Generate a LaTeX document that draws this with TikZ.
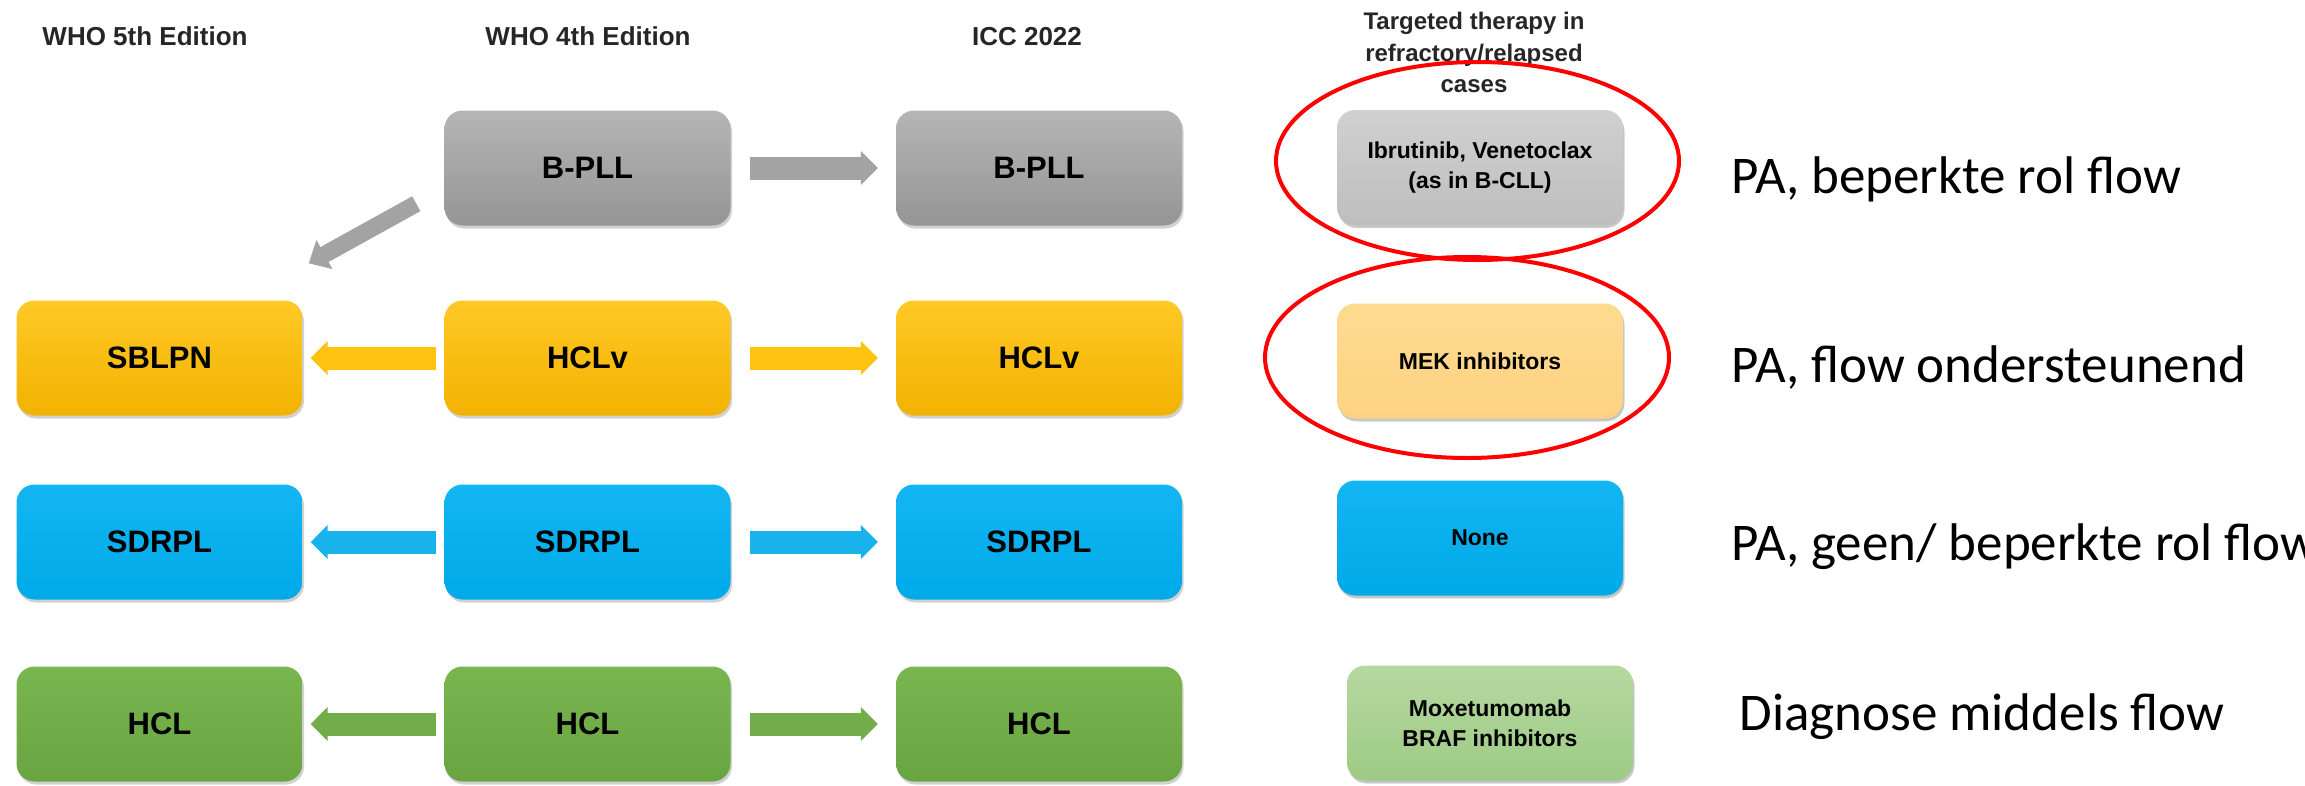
\documentclass[tikz,border=0pt]{standalone}
\usepackage{fontspec}
\setmainfont{Liberation Sans}
\newfontfamily\calib{Carlito}
\usetikzlibrary{arrows.meta,shadows}
\definecolor{grayT}{HTML}{B5B5B5}
\definecolor{grayB}{HTML}{959595}
\definecolor{yelT}{HTML}{FFC926}
\definecolor{yelB}{HTML}{F2B200}
\definecolor{bluT}{HTML}{12B6F2}
\definecolor{bluB}{HTML}{00A9E8}
\definecolor{grnT}{HTML}{7AB650}
\definecolor{grnB}{HTML}{68A43F}
\definecolor{tgrayT}{HTML}{D0D0D0}
\definecolor{tgrayB}{HTML}{BEBEBE}
\definecolor{tyelT}{HTML}{FFDB90}
\definecolor{tyelB}{HTML}{FDD283}
\definecolor{tgrnT}{HTML}{B6D8A0}
\definecolor{tgrnB}{HTML}{9DCB85}
\definecolor{arrGray}{HTML}{A3A3A3}
\definecolor{arrYel}{HTML}{FFC20E}
\definecolor{arrBlu}{HTML}{18B3EC}
\definecolor{arrGrn}{HTML}{72AD4A}
\begin{document}
\begin{tikzpicture}[x=1pt,y=-1pt,
  box/.style={rounded corners=18pt, minimum width=286pt, minimum height=115pt,
    inner sep=0pt, text=black,
    drop shadow={shadow xshift=1.5pt, shadow yshift=-3pt, opacity=0.3, fill=black!60}},
  mainbox/.style={box, font=\fontsize{31}{36}\selectfont\bfseries},
  therbox/.style={box, align=center, font=\fontsize{23}{30}\selectfont\bfseries,
    drop shadow={shadow xshift=1pt, shadow yshift=-2pt, opacity=0.15, fill=black!50}},
  grayfill/.style={top color=grayT, bottom color=grayB},
  yelfill/.style={top color=yelT, bottom color=yelB},
  blufill/.style={top color=bluT, bottom color=bluB},
  grnfill/.style={top color=grnT, bottom color=grnB},
  header/.style={anchor=base, font=\fontsize{26}{30}\selectfont\bfseries, text=black!85},
  note/.style={anchor=base west, font=\calib\fontsize{53}{60}\selectfont, text=black},
  fwd/.style={line width=23pt, -{Triangle[length=17pt,width=33pt]},
    shorten <=19pt, shorten >=18pt},
  back/.style={line width=23pt, -{Triangle[length=17pt,width=33pt]},
    shorten <=8pt, shorten >=8pt},
  redring/.style={draw=red, line width=4pt}
]
\useasboundingbox (0,0) rectangle (2305,785);

% headers
\node[header] (h5) at (145,45) {WHO 5th Edition};
\node[header] (h4) at (588,45) {WHO 4th Edition};
\node[header] (hicc) at (1027,45) {ICC 2022};
\node[anchor=north, align=center, inner sep=0pt, text=black!85,
  font=\fontsize{24}{31.5}\selectfont\bfseries] (hth) at (1474,12)
  {Targeted therapy in\\refractory/relapsed\\cases};

% row 1: B-PLL
\node[mainbox, grayfill] (bpll4) at (587.5,168) {B-PLL};
\node[mainbox, grayfill] (bpllicc) at (1039,168) {B-PLL};
% row 2: HCLv
\node[mainbox, yelfill] (sblpn) at (159.5,358) {SBLPN};
\node[mainbox, yelfill] (hclv4) at (587.5,358) {HCLv};
\node[mainbox, yelfill] (hclvicc) at (1039,358) {HCLv};
% row 3: SDRPL
\node[mainbox, blufill] (sdrpl5) at (159.5,542) {SDRPL};
\node[mainbox, blufill] (sdrpl4) at (587.5,542) {SDRPL};
\node[mainbox, blufill] (sdrplicc) at (1039,542) {SDRPL};
% row 4: HCL
\node[mainbox, grnfill] (hcl5) at (159.5,724) {HCL};
\node[mainbox, grnfill] (hcl4) at (587.5,724) {HCL};
\node[mainbox, grnfill] (hclicc) at (1039,724) {HCL};

% therapy boxes
\node[therbox, top color=tgrayT, bottom color=tgrayB] (t1) at (1480,167.5)
  {Ibrutinib, Venetoclax\\(as in B-CLL)};
\node[therbox, top color=tyelT, bottom color=tyelB] (t2) at (1480,361) {MEK inhibitors};
\node[therbox, top color=bluT, bottom color=bluB] (t3) at (1480,538) {None};
\node[therbox, top color=tgrnT, bottom color=tgrnB] (t4) at (1490,723)
  {Moxetumomab\\BRAF inhibitors};

% arrows
\draw[fwd, arrGray] (bpll4.east) -- (bpllicc.west);
\draw[line width=17pt, arrGray, -{Triangle[length=18pt,width=32pt]}]
  ([shift={(-28,-22)}]bpll4.south west) -- ([shift={(6,-37)}]sblpn.north east);
\draw[back, arrYel] (hclv4.west) -- (sblpn.east);
\draw[fwd, arrYel] (hclv4.east) -- (hclvicc.west);
\draw[back, arrBlu] (sdrpl4.west) -- (sdrpl5.east);
\draw[fwd, arrBlu] (sdrpl4.east) -- (sdrplicc.west);
\draw[back, arrGrn] (hcl4.west) -- (hcl5.east);
\draw[fwd, arrGrn] (hcl4.east) -- (hclicc.west);

% red rings
\draw[redring] (1477.5,161) ellipse [x radius=201.5, y radius=99];
\draw[redring] (1467,357.5) ellipse [x radius=202, y radius=100.5];

% notes
\node[note] (n1) at (1728,193) {PA, beperkte rol flow};
\node[note] (n2) at (1728,382) {PA, flow ondersteunend};
\node[note] (n3) at (1728,560) {PA, geen/ beperkte rol flow};
\node[note] (n4) at (1736,730) {Diagnose middels flow};
\end{tikzpicture}
\end{document}
